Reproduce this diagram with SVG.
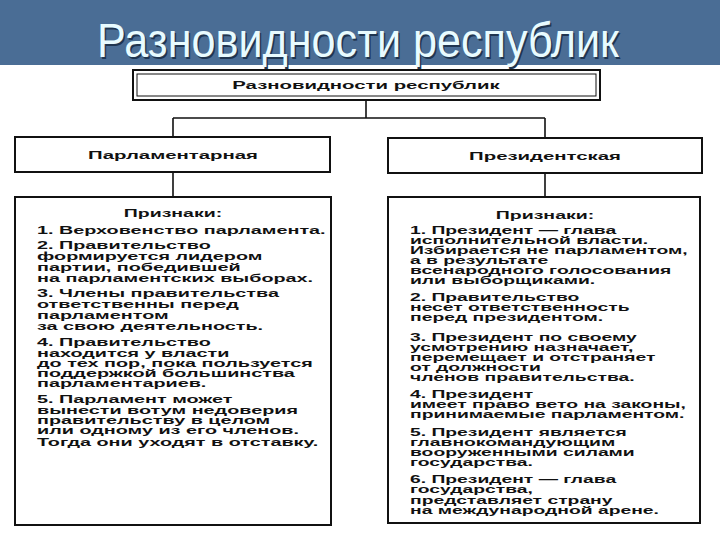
<svg xmlns="http://www.w3.org/2000/svg" width="720" height="540" viewBox="0 0 720 540">
<style>
.b{fill:#fff;stroke:#111;stroke-width:2}
.c{fill:none;stroke:#111;stroke-width:1.6}
.h{font-family:"Liberation Sans",Arial,sans-serif;font-weight:bold;font-size:11px;fill:#111}
.t{font-family:"Liberation Sans",Arial,sans-serif;font-weight:bold;font-size:10px;fill:#111}
</style>
<rect x="0" y="0" width="720" height="540" fill="#fff"/>
<rect x="0" y="0" width="720" height="65" fill="#4a6d95"/>
<text x="97" y="57" textLength="522" lengthAdjust="spacingAndGlyphs" font-family="'Liberation Sans',Arial,sans-serif" font-size="48" fill="#1f3550" transform="translate(1.5,1.5)">Разновидности республик</text>
<text x="97" y="57" textLength="522" lengthAdjust="spacingAndGlyphs" font-family="'Liberation Sans',Arial,sans-serif" font-size="48" fill="#e8fbff">Разновидности республик</text>
<g id="connectors">
<path class="c" d="M366 100V118M173 118H545M173 118V137M545 118V138M173 172V197M545 173V197"/>
</g>
<g id="root">
<rect class="b" x="133" y="70" width="467" height="30"/>
<rect x="137" y="74" width="459" height="22" fill="none" stroke="#111" stroke-width="1"/>
<text class="h" x="366" y="89" text-anchor="middle" transform="translate(366,0) scale(1.85,1) translate(-366,0)">Разновидности республик</text>
</g>
<g id="parl">
<rect class="b" x="15" y="137" width="315" height="35"/>
<text class="h" x="173" y="159" text-anchor="middle" transform="translate(173,0) scale(1.85,1) translate(-173,0)">Парламентарная</text>
</g>
<g id="pres">
<rect class="b" x="388" y="138" width="314" height="35"/>
<text class="h" x="545" y="160" text-anchor="middle" transform="translate(545,0) scale(1.85,1) translate(-545,0)">Президентская</text>
</g>
<g id="parl-signs">
<rect class="b" x="15" y="197" width="316" height="328"/>
<text class="t" x="173" y="217" text-anchor="middle" transform="translate(173,0) scale(1.95,1) translate(-173,0)">Признаки:</text>
<g transform="translate(37,0) scale(1.98,1)">
<text class="t" x="0" y="234">1. Верховенство парламента.</text>
<text class="t" x="0" y="249">2. Правительство</text>
<text class="t" x="0" y="260">формируется лидером</text>
<text class="t" x="0" y="271">партии, победившей</text>
<text class="t" x="0" y="282">на парламентских выборах.</text>
<text class="t" x="0" y="297">3. Члены правительства</text>
<text class="t" x="0" y="308">ответственны перед</text>
<text class="t" x="0" y="319">парламентом</text>
<text class="t" x="0" y="330">за свою деятельность.</text>
<text class="t" x="0" y="346">4. Правительство</text>
<text class="t" x="0" y="357">находится у власти</text>
<text class="t" x="0" y="367">до тех пор, пока пользуется</text>
<text class="t" x="0" y="377">поддержкой большинства</text>
<text class="t" x="0" y="387">парламентариев.</text>
<text class="t" x="0" y="403">5. Парламент может</text>
<text class="t" x="0" y="414">вынести вотум недоверия</text>
<text class="t" x="0" y="424">правительству в целом</text>
<text class="t" x="0" y="434">или одному из его членов.</text>
<text class="t" x="0" y="446">Тогда они уходят в отставку.</text>
</g>
</g>
<g id="pres-signs">
<rect class="b" x="388" y="197" width="312" height="326"/>
<text class="t" x="545" y="219" text-anchor="middle" transform="translate(545,0) scale(1.95,1) translate(-545,0)">Признаки:</text>
<g transform="translate(410,0) scale(1.93,1)">
<text class="t" x="0" y="234">1. Президент — глава</text>
<text class="t" x="0" y="244">исполнительной власти.</text>
<text class="t" x="0" y="254">Избирается не парламентом,</text>
<text class="t" x="0" y="264">а в результате</text>
<text class="t" x="0" y="274">всенародного голосования</text>
<text class="t" x="0" y="284">или выборщиками.</text>
<text class="t" x="0" y="301">2. Правительство</text>
<text class="t" x="0" y="311">несет ответственность</text>
<text class="t" x="0" y="321">перед президентом.</text>
<text class="t" x="0" y="341">3. Президент по своему</text>
<text class="t" x="0" y="351">усмотрению назначает,</text>
<text class="t" x="0" y="361">перемещает и отстраняет</text>
<text class="t" x="0" y="371">от должности</text>
<text class="t" x="0" y="381">членов правительства.</text>
<text class="t" x="0" y="398">4. Президент</text>
<text class="t" x="0" y="408">имеет право вето на законы,</text>
<text class="t" x="0" y="418">принимаемые парламентом.</text>
<text class="t" x="0" y="436">5. Президент является</text>
<text class="t" x="0" y="446">главнокомандующим</text>
<text class="t" x="0" y="456">вооруженными силами</text>
<text class="t" x="0" y="466">государства.</text>
<text class="t" x="0" y="483">6. Президент — глава</text>
<text class="t" x="0" y="493">государства,</text>
<text class="t" x="0" y="504">представляет страну</text>
<text class="t" x="0" y="514">на международной арене.</text>
</g>
</g>
</svg>
